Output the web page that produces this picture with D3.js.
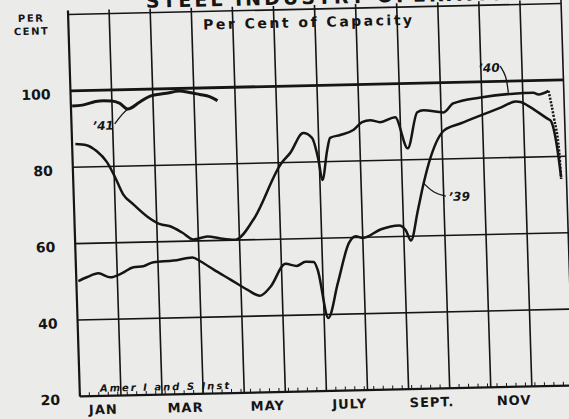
<!DOCTYPE html>
<meta charset="utf-8">

<!-- Load d3.js -->
<script src="https://d3js.org/d3.v7.min.js"></script>

<style>
  body { margin: 0; background: #ebebe9; }
  text { font-family: "DejaVu Sans", sans-serif; font-weight: bold; fill: #151515; }
</style>

<!-- Create a div where the graph will take place -->
<div id="my_dataviz"></div>

<script>

// month labels on the bottom axis, and the month each one sits in
var monthLabels = ["JAN", "MAR", "MAY", "JULY", "SEPT.", "NOV"]
var monthIndex = [0, 2, 4, 6, 8, 10]

// per cent ticks
var yTicks = [20, 40, 60, 80, 100]

// weekly rates: position in months from Jan 1, and per cent of capacity
var t39 = [0.05, 0.27, 0.54, 0.83, 1.12, 1.40, 1.64, 1.89, 2.38, 2.84, 3.04, 3.35, 3.75, 4.16, 4.45, 4.72, 5.10, 5.37, 5.59, 5.79, 5.88, 6.10, 6.36, 6.66, 6.83, 7.00, 7.45, 7.89, 8.05, 8.17, 8.36, 8.52, 8.71, 9.06, 9.46, 9.96, 10.45, 10.82, 10.94, 11.11, 11.59, 11.66, 11.79, 11.87]
var v39 = [50.2, 51.2, 52.1, 51.0, 52.0, 53.5, 53.7, 54.7, 55.0, 55.7, 54.6, 52.4, 49.7, 46.9, 45.3, 47.6, 53.5, 52.9, 53.9, 53.8, 51.7, 39.1, 48.2, 58.6, 60.3, 59.8, 62.0, 62.9, 61.6, 58.9, 66.7, 73.7, 80.5, 87.5, 89.2, 91.2, 93.1, 94.6, 94.5, 93.5, 89.9, 89.4, 82.8, 74.6]

var t40 = [0.08, 0.35, 0.59, 0.83, 1.01, 1.20, 1.44, 1.77, 2.08, 2.32, 2.61, 2.88, 3.22, 3.54, 3.90, 4.35, 5.08, 5.30, 5.63, 5.84, 5.98, 6.06, 6.20, 6.28, 6.53, 6.85, 7.07, 7.27, 7.51, 7.88, 8.16, 8.42, 8.57, 9.06, 9.30, 9.97, 10.78, 11.26, 11.38, 11.63, 11.74, 11.84, 11.87]
var v40 = [86.1, 85.7, 84.1, 81.2, 77.4, 72.7, 70.0, 66.7, 64.6, 64.0, 62.3, 60.4, 61.1, 60.5, 60.1, 65.2, 79.9, 82.5, 87.6, 86.3, 80.5, 75.2, 83.0, 86.2, 86.9, 88.1, 90.1, 90.6, 90.0, 91.2, 83.0, 92.4, 92.9, 92.2, 94.5, 95.9, 96.7, 96.8, 96.3, 97.2, 90.1, 81.5, 74.1]

var t41 = [0.03, 0.28, 0.70, 0.99, 1.18, 1.38, 1.67, 1.92, 2.33, 2.65, 2.89, 3.14, 3.38, 3.57]
var v41 = [96.0, 96.2, 97.2, 97.1, 96.5, 94.9, 96.6, 98.1, 98.8, 99.3, 98.9, 98.3, 97.7, 96.6]

// set the dimensions of the graph
var width = 569
    height = 419
    ink = "#151515"

var svg = d3.select("#my_dataviz")
  .append("svg")
    .attr("width", width)
    .attr("height", height)

svg.append("rect")
  .attr("width", width)
  .attr("height", height)
  .attr("fill", "#ebebe9")

// the scanned page sits a little crooked, so the drawing is skewed the same way
var g = svg.append("g")
  .attr("transform", "matrix(1,-0.0222,0.031,1,-6.2,7.1)")

var x = d3.scaleLinear().domain([0, 12]).range([74, 567])
var y = d3.scaleLinear().domain([20, 120]).range([391, 9])

// title, mostly cut off at the top of the page like in the scan
g.append("text")
  .attr("x", x(1.9)).attr("y", 4)
  .style("font-size", "19px").style("letter-spacing", "3px")
  .text("STEEL INDUSTRY OPERATIONS")

// vertical lines at every month boundary
g.selectAll(".vgrid")
  .data(d3.range(0, 13))
  .enter()
  .append("line")
    .attr("x1", function(d) { return x(d) })
    .attr("x2", function(d) { return x(d) })
    .attr("y1", y(20))
    .attr("y2", y(120) - 4)
    .attr("stroke", ink)
    .attr("stroke-width", function(d) { return d == 0 ? 2.2 : 1.6 })

// horizontal lines, the 100 line is heavier
g.selectAll(".hgrid")
  .data([20, 40, 60, 80, 100, 120])
  .enter()
  .append("line")
    .attr("x1", x(0))
    .attr("x2", x(12))
    .attr("y1", function(d) { return y(d) })
    .attr("y2", function(d) { return y(d) })
    .attr("stroke", ink)
    .attr("stroke-width", function(d) { return d == 100 ? 2.8 : (d == 20 ? 2.2 : 1.6) })

// small weekly ticks along the bottom
g.selectAll(".wtick")
  .data(d3.range(0, 52).map(function(w) { return w * 12 / 52 }))
  .enter()
  .append("line")
    .attr("x1", function(d) { return x(d) })
    .attr("x2", function(d) { return x(d) })
    .attr("y1", y(20))
    .attr("y2", y(20) - 4)
    .attr("stroke", ink)
    .attr("stroke-width", 1)

// per cent labels
g.selectAll(".ylab")
  .data(yTicks)
  .enter()
  .append("text")
    .attr("x", x(0) - 20)
    .attr("y", function(d) { return y(d) + 4 })
    .attr("text-anchor", "end")
    .attr("dominant-baseline", "middle")
    .style("font-size", "14px")
    .text(function(d) { return d })

g.append("text").attr("x", 37).attr("y", 15.5).attr("text-anchor", "middle")
  .style("font-size", "10px").style("letter-spacing", "1.5px").text("PER")
g.append("text").attr("x", 37).attr("y", 28.5).attr("text-anchor", "middle")
  .style("font-size", "10px").style("letter-spacing", "1.5px").text("CENT")

// month labels
g.selectAll(".mlab")
  .data(monthLabels)
  .enter()
  .append("text")
    .attr("x", function(d, i) { return x(monthIndex[i] + 0.56) })
    .attr("y", y(20) + 18)
    .attr("text-anchor", "middle")
    .style("font-size", "13px")
    .style("letter-spacing", "1px")
    .text(function(d) { return d })

g.append("text")
  .attr("x", x(5.85)).attr("y", y(115.3))
  .attr("text-anchor", "middle")
  .style("font-size", "14px").style("letter-spacing", "2.5px")
  .text("Per Cent of Capacity")

g.append("text")
  .attr("x", x(0.49)).attr("y", y(21.1))
  .style("font-size", "10px").style("font-style", "italic").style("letter-spacing", "2px")
  .text("Amer I and S Inst")

// the three years
var line = d3.line()
  .x(function(d) { return x(d[0]) })
  .y(function(d) { return y(d[1]) })
  .curve(d3.curveMonotoneX)

var s39 = d3.zip(t39, v39)
var s40 = d3.zip(t40, v40)
var s41 = d3.zip(t41, v41)

g.append("path").attr("d", line(s39))
  .attr("fill", "none").attr("stroke", ink).attr("stroke-width", 2.5)
g.append("path").attr("d", line(s40.slice(0, 40)))
  .attr("fill", "none").attr("stroke", ink).attr("stroke-width", 2.5)
// year end drop of 1940 is drawn dotted
g.append("path").attr("d", line(s40.slice(39)))
  .attr("fill", "none").attr("stroke", ink).attr("stroke-width", 2.5).attr("stroke-dasharray", "2,1.5")
g.append("path").attr("d", line(s41))
  .attr("fill", "none").attr("stroke", ink).attr("stroke-width", 3)

// year labels with their leaders
var leader = d3.line()
  .x(function(d) { return x(d[0]) })
  .y(function(d) { return y(d[1]) })
  .curve(d3.curveBasis)

var yearLabels = [
  {text: "\u201941", at: [0.51, 89.6], lead: [[1.05, 91.1], [1.26, 93.9], [1.39, 95.0]]},
  {text: "\u201940", at: [9.94, 102.5], lead: [[10.47, 104.0], [10.61, 101.6], [10.65, 97.0]]},
  {text: "\u201939", at: [9.12, 69.0], lead: [[8.52, 73.8], [8.76, 71.1], [9.05, 70.3]]}
]

yearLabels.forEach(function(l) {
  g.append("text")
    .attr("x", x(l.at[0])).attr("y", y(l.at[1]))
    .style("font-size", "12px").style("font-style", "italic")
    .text(l.text)
  g.append("path").attr("d", leader(l.lead))
    .attr("fill", "none").attr("stroke", ink).attr("stroke-width", 1.3)
})

</script>
